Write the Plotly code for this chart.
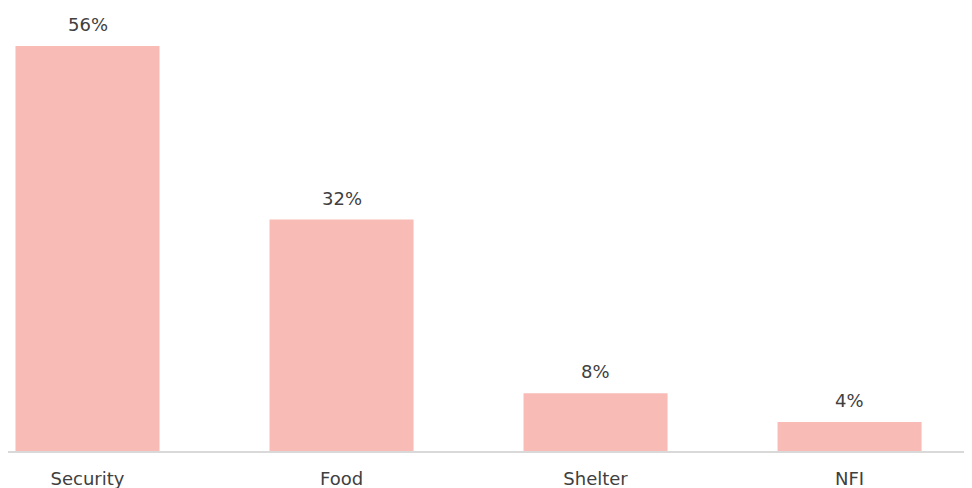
import plotly.graph_objects as go

categories = ["Security", "Food", "Shelter", "NFI"]
values = [56, 32, 8, 4]
labels = ["56%", "32%", "8%", "4%"]

FONT = dict(family="DejaVu Sans", size=18, color="#404040")

fig = go.Figure()
fig.add_trace(go.Bar(
    x=categories, y=values,
    marker=dict(color="#F9BBB5", line=dict(width=0)),
    width=0.567,
    hoverinfo="skip",
))
for c, v, t in zip(categories, values, labels):
    fig.add_annotation(x=c, y=v, text=t, showarrow=False, yanchor="bottom",
                       yshift=9, font=FONT)

fig.update_layout(
    width=964, height=480,
    margin=dict(l=0, r=0, t=0, b=37),
    paper_bgcolor="white", plot_bgcolor="white",
    showlegend=False,
    font=FONT,
    xaxis=dict(range=[-0.313, 3.482], showgrid=False, showline=True, linecolor="#D9D9D9",
               linewidth=1.5, ticks="outside", ticklen=11, tickcolor="rgba(0,0,0,0)",
               tickfont=FONT),
    yaxis=dict(range=[0, 61.26], visible=False),
)
fig.write_html("out.html")
